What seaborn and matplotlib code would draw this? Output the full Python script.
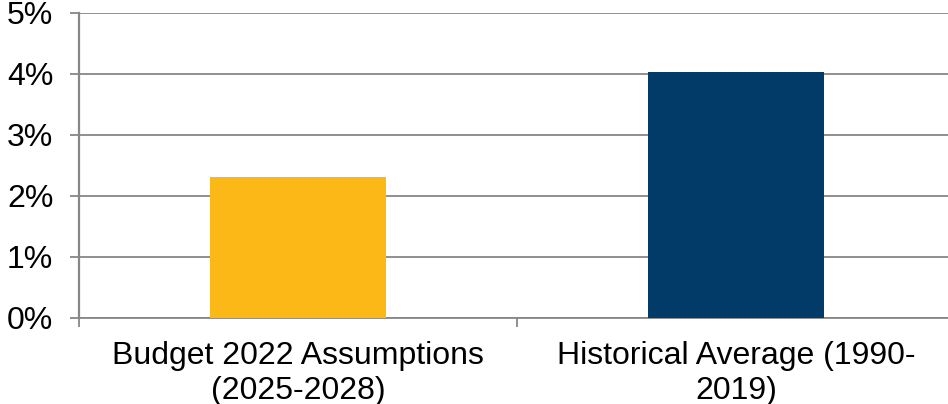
import matplotlib
matplotlib.use("Agg")
import matplotlib.pyplot as plt
import seaborn as sns
import pandas as pd
from matplotlib.ticker import FuncFormatter, FixedLocator

# Average annual growth rates, in percent
categories = ["Budget 2022 Assumptions\n(2025-2028)", "Historical Average (1990-\n2019)"]
values = [2.31, 4.03]
bar_colors = ["#FCB816", "#023B67"]
y_ticks = [0, 1, 2, 3, 4, 5]

df = pd.DataFrame({"category": categories, "value": values})

sns.set_theme(style="white")
plt.rcParams["font.family"] = ["Liberation Sans", "DejaVu Sans"]

fig = plt.figure(figsize=(9.48, 4.04), dpi=100)
ax = fig.add_axes([79 / 948, (404 - 317.5) / 404, 876 / 948, 304.5 / 404])

sns.barplot(data=df, x="category", y="value", hue="category", palette=bar_colors,
            width=0.402, saturation=1, legend=False, ax=ax, zorder=3,
            linewidth=0, edgecolor="none")

grid_color = "#878787"
ax.set_ylim(0, 5)
ax.set_xlim(-0.5, 1.5)
ax.set_yticks(y_ticks)
ax.yaxis.set_major_formatter(FuncFormatter(lambda v, _: f"{v:.0f}%"))
ax.yaxis.grid(True, color=grid_color, linewidth=1.3, zorder=0)
ax.set_axisbelow(True)

# category labels centred under bars, separator ticks between categories
ax.set_xticks([0, 1])
ax.set_xticklabels(categories)
ax.xaxis.set_minor_locator(FixedLocator([-0.5, 0.5, 1.5]))
ax.tick_params(axis="x", which="major", length=0, pad=17, labelsize=23, colors="black")
ax.tick_params(axis="x", which="minor", length=6.5, width=1.3, color=grid_color, bottom=True)
ax.tick_params(axis="y", which="major", length=6.5, width=1.3, color=grid_color,
               left=True, pad=12, labelsize=23, labelcolor="black")

for side in ["top", "right"]:
    ax.spines[side].set_visible(False)
ax.spines["left"].set_color(grid_color)
ax.spines["left"].set_linewidth(1.6)
ax.spines["bottom"].set_color(grid_color)
ax.spines["bottom"].set_linewidth(1.3)

ax.set_xlabel("")
ax.set_ylabel("")

fig.savefig("out.png", dpi=100)
